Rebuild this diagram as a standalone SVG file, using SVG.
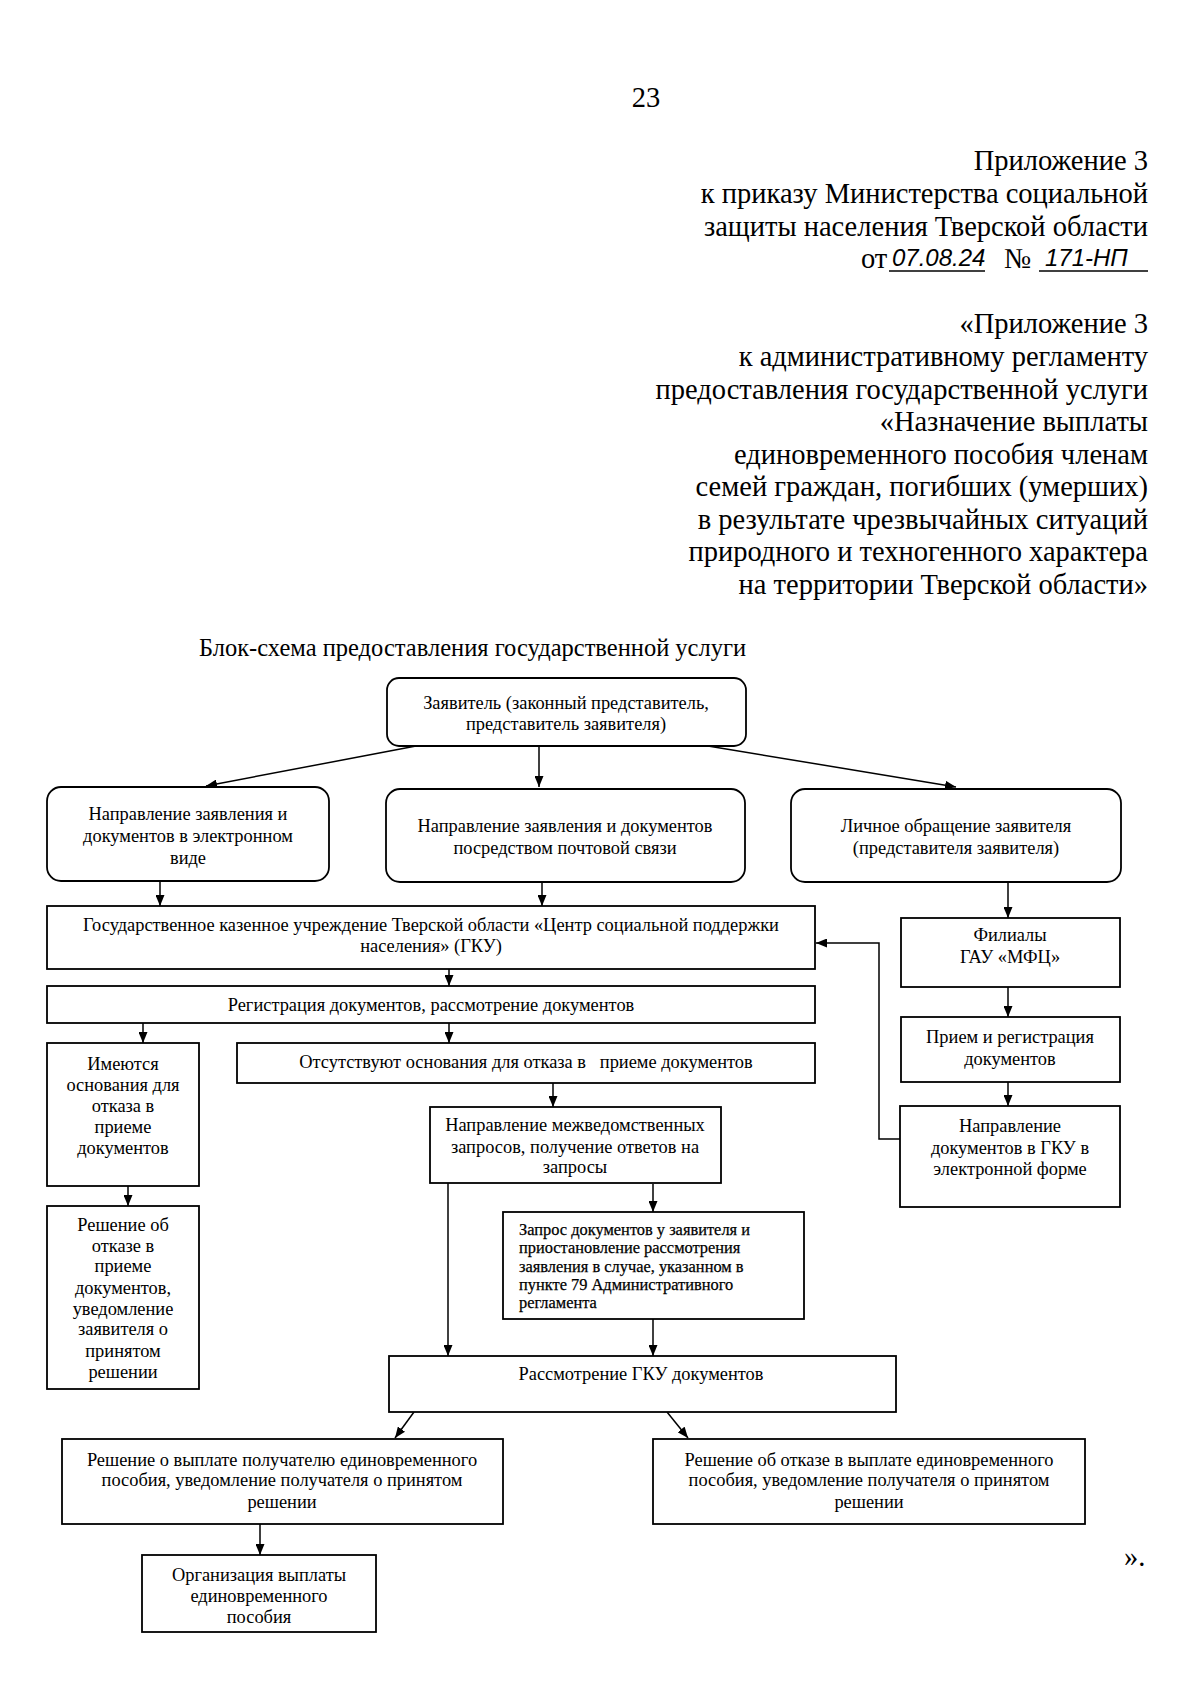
<svg xmlns="http://www.w3.org/2000/svg" width="1200" height="1703" viewBox="0 0 1200 1703">
<style>
  .hdr { font-family: "Liberation Serif", "Times New Roman", serif; font-size: 28.5px; fill: #000; }
  .r { text-anchor: end; }
  .t { font-family: "Liberation Serif", "Times New Roman", serif; font-size: 18.4px; fill: #000; text-anchor: middle; }
  .ts { font-family: "Liberation Serif", "Times New Roman", serif; font-size: 16.4px; fill: #000; stroke: #000; stroke-width: 0.25; }
  .hw { font-family: "Liberation Sans", Arial, sans-serif; font-style: italic; font-size: 24px; fill: #000; }
  .box { fill: #fff; stroke: #000; stroke-width: 1.8; }
  .con { fill: none; stroke: #000; stroke-width: 1.5; }
</style>
<defs>
  <marker id="ah" markerUnits="userSpaceOnUse" markerWidth="11" markerHeight="9" refX="11" refY="4.5" orient="auto">
    <path d="M0,0 L11,4.5 L0,9 z" fill="#000"/>
  </marker>
</defs>
<rect width="1200" height="1703" fill="#fff"/>

<g id="header">
  <text class="hdr" x="646" y="107" text-anchor="middle">23</text>
  <text class="hdr r" x="1148" y="170">Приложение 3</text>
  <text class="hdr r" x="1148" y="203">к приказу Министерства социальной</text>
  <text class="hdr r" x="1148" y="236">защиты населения Тверской области</text>
  <text class="hdr" x="861" y="268">от</text>
  <text class="hw" x="892" y="266">07.08.24</text>
  <text class="hdr" x="1004" y="268">№</text>
  <text class="hw" x="1045" y="266">171-НП</text>
  <line x1="889" y1="271" x2="985" y2="271" stroke="#000" stroke-width="1.3"/>
  <line x1="1039" y1="271" x2="1148" y2="271" stroke="#000" stroke-width="1.3"/>
  <text class="hdr r" x="1148" y="333">«Приложение 3</text>
  <text class="hdr r" x="1148" y="366">к административному регламенту</text>
  <text class="hdr r" x="1148" y="399">предоставления государственной услуги</text>
  <text class="hdr r" x="1148" y="431">«Назначение выплаты</text>
  <text class="hdr r" x="1148" y="464">единовременного пособия членам</text>
  <text class="hdr r" x="1148" y="496">семей граждан, погибших (умерших)</text>
  <text class="hdr r" x="1148" y="529">в результате чрезвычайных ситуаций</text>
  <text class="hdr r" x="1148" y="561">природного и техногенного характера</text>
  <text class="hdr r" x="1148" y="594">на территории Тверской области»</text>
  <text class="hdr" x="199" y="656" style="font-size:24.5px">Блок-схема предоставления государственной услуги</text>
  <text class="hdr" x="1124" y="1566">».</text>
</g>

<g id="connectors">
  <line class="con" x1="416" y1="746" x2="206" y2="786" marker-end="url(#ah)"/>
  <line class="con" x1="539" y1="746" x2="539" y2="787" marker-end="url(#ah)"/>
  <line class="con" x1="708" y1="746" x2="956" y2="787" marker-end="url(#ah)"/>
  <line class="con" x1="160" y1="881" x2="160" y2="906" marker-end="url(#ah)"/>
  <line class="con" x1="542" y1="882" x2="542" y2="906" marker-end="url(#ah)"/>
  <line class="con" x1="1008" y1="882" x2="1008" y2="918" marker-end="url(#ah)"/>
  <line class="con" x1="449" y1="969" x2="449" y2="986" marker-end="url(#ah)"/>
  <line class="con" x1="143" y1="1023" x2="143" y2="1043" marker-end="url(#ah)"/>
  <line class="con" x1="449" y1="1023" x2="449" y2="1043" marker-end="url(#ah)"/>
  <line class="con" x1="553" y1="1083" x2="553" y2="1107" marker-end="url(#ah)"/>
  <line class="con" x1="653" y1="1184" x2="653" y2="1212" marker-end="url(#ah)"/>
  <line class="con" x1="448" y1="1183" x2="448" y2="1356" marker-end="url(#ah)"/>
  <line class="con" x1="653" y1="1319" x2="653" y2="1356" marker-end="url(#ah)"/>
  <line class="con" x1="128" y1="1186" x2="128" y2="1206" marker-end="url(#ah)"/>
  <line class="con" x1="414" y1="1412" x2="395" y2="1438" marker-end="url(#ah)"/>
  <line class="con" x1="667" y1="1412" x2="688" y2="1438" marker-end="url(#ah)"/>
  <line class="con" x1="260" y1="1524" x2="260" y2="1555" marker-end="url(#ah)"/>
  <line class="con" x1="1008" y1="987" x2="1008" y2="1017" marker-end="url(#ah)"/>
  <line class="con" x1="1008" y1="1082" x2="1008" y2="1106" marker-end="url(#ah)"/>
  <polyline class="con" points="900,1139 879,1139 879,943 816,943" marker-end="url(#ah)"/>
</g>

<g id="n-applicant">
  <rect class="box" x="387" y="678" width="359" height="68" rx="12"/>
  <text class="t" x="566" y="709">Заявитель (законный представитель,</text>
  <text class="t" x="566" y="730">представитель заявителя)</text>
</g>
<g id="n-electronic">
  <rect class="box" x="47" y="787" width="282" height="94" rx="14"/>
  <text class="t" x="188" y="820">Направление заявления и</text>
  <text class="t" x="188" y="842">документов в электронном</text>
  <text class="t" x="188" y="864">виде</text>
</g>
<g id="n-post">
  <rect class="box" x="386" y="789" width="359" height="93" rx="14"/>
  <text class="t" x="565" y="832">Направление заявления и документов</text>
  <text class="t" x="565" y="854">посредством почтовой связи</text>
</g>
<g id="n-personal">
  <rect class="box" x="791" y="789" width="330" height="93" rx="14"/>
  <text class="t" x="956" y="832">Личное обращение заявителя</text>
  <text class="t" x="956" y="854">(представителя заявителя)</text>
</g>
<g id="n-gku">
  <rect class="box" x="47" y="906" width="768" height="63"/>
  <text class="t" x="431" y="931">Государственное казенное учреждение Тверской области «Центр социальной поддержки</text>
  <text class="t" x="431" y="952">населения» (ГКУ)</text>
</g>
<g id="n-registration">
  <rect class="box" x="47" y="986" width="768" height="37"/>
  <text class="t" x="431" y="1011">Регистрация документов, рассмотрение документов</text>
</g>
<g id="n-grounds">
  <rect class="box" x="47" y="1043" width="152" height="143"/>
  <text class="t" x="123" y="1070">Имеются</text>
  <text class="t" x="123" y="1091">основания для</text>
  <text class="t" x="123" y="1112">отказа в</text>
  <text class="t" x="123" y="1133">приеме</text>
  <text class="t" x="123" y="1154">документов</text>
</g>
<g id="n-nogrounds">
  <rect class="box" x="237" y="1043" width="578" height="40"/>
  <text class="t" x="526" y="1068" style="white-space:pre">Отсутствуют основания для отказа в   приеме документов</text>
</g>
<g id="n-interagency">
  <rect class="box" x="430" y="1107" width="291" height="76"/>
  <text class="t" x="575" y="1131">Направление межведомственных</text>
  <text class="t" x="575" y="1153">запросов, получение ответов на</text>
  <text class="t" x="575" y="1173">запросы</text>
</g>
<g id="n-request">
  <rect class="box" x="503" y="1212" width="301" height="107"/>
  <text class="ts" x="519" y="1235">Запрос документов у заявителя и</text>
  <text class="ts" x="519" y="1253">приостановление рассмотрения</text>
  <text class="ts" x="519" y="1272">заявления в случае, указанном в</text>
  <text class="ts" x="519" y="1290">пункте 79 Административного</text>
  <text class="ts" x="519" y="1308">регламента</text>
</g>
<g id="n-refusal-accept">
  <rect class="box" x="47" y="1206" width="152" height="183"/>
  <text class="t" x="123" y="1231">Решение об</text>
  <text class="t" x="123" y="1252">отказе в</text>
  <text class="t" x="123" y="1272">приеме</text>
  <text class="t" x="123" y="1294">документов,</text>
  <text class="t" x="123" y="1315">уведомление</text>
  <text class="t" x="123" y="1335">заявителя о</text>
  <text class="t" x="123" y="1357">принятом</text>
  <text class="t" x="123" y="1378">решении</text>
</g>
<g id="n-review">
  <rect class="box" x="389" y="1356" width="507" height="56"/>
  <text class="t" x="641" y="1380">Рассмотрение ГКУ документов</text>
</g>
<g id="n-payment">
  <rect class="box" x="62" y="1439" width="441" height="85"/>
  <text class="t" x="282" y="1466">Решение о выплате получателю единовременного</text>
  <text class="t" x="282" y="1486">пособия, уведомление получателя о принятом</text>
  <text class="t" x="282" y="1508">решении</text>
</g>
<g id="n-refusal-payment">
  <rect class="box" x="653" y="1439" width="432" height="85"/>
  <text class="t" x="869" y="1466">Решение об отказе в выплате единовременного</text>
  <text class="t" x="869" y="1486">пособия, уведомление получателя о принятом</text>
  <text class="t" x="869" y="1508">решении</text>
</g>
<g id="n-organization">
  <rect class="box" x="142" y="1555" width="234" height="77"/>
  <text class="t" x="259" y="1581">Организация выплаты</text>
  <text class="t" x="259" y="1602">единовременного</text>
  <text class="t" x="259" y="1623">пособия</text>
</g>
<g id="n-mfc">
  <rect class="box" x="901" y="918" width="219" height="69"/>
  <text class="t" x="1010" y="941">Филиалы</text>
  <text class="t" x="1010" y="963">ГАУ «МФЦ»</text>
</g>
<g id="n-mfc-reg">
  <rect class="box" x="901" y="1017" width="219" height="65"/>
  <text class="t" x="1010" y="1043">Прием и регистрация</text>
  <text class="t" x="1010" y="1065">документов</text>
</g>
<g id="n-mfc-send">
  <rect class="box" x="900" y="1106" width="220" height="101"/>
  <text class="t" x="1010" y="1132">Направление</text>
  <text class="t" x="1010" y="1154">документов в ГКУ в</text>
  <text class="t" x="1010" y="1175">электронной форме</text>
</g>
</svg>
